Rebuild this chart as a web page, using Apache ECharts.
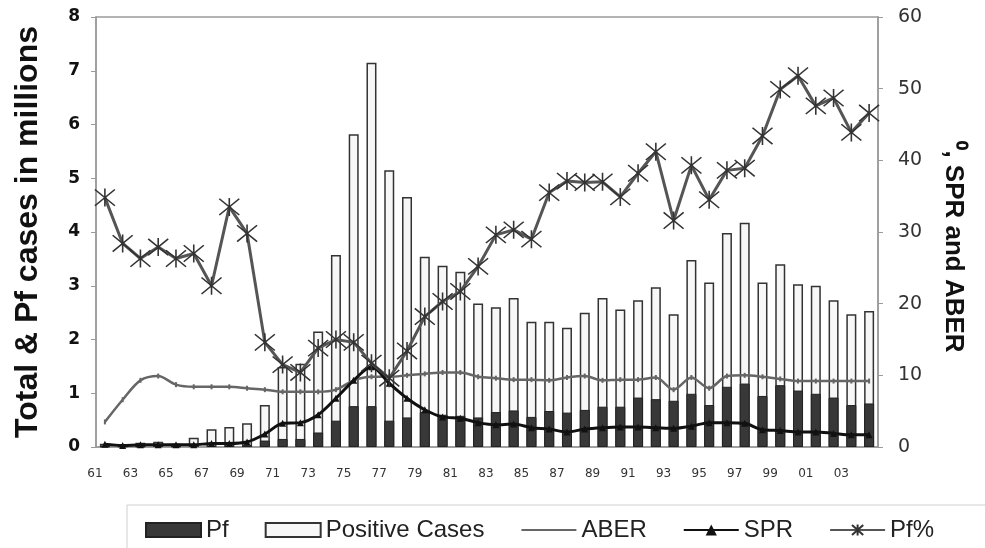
<!DOCTYPE html>
<html>
<head>
<meta charset="utf-8">
<script src="https://cdn.jsdelivr.net/npm/echarts@6/dist/echarts.min.js"></script>
<style>
  html, body { margin: 0; padding: 0; background: #fff; }
  #chart { width: 985px; height: 548px; }
</style>
</head>
<body>
<div id="chart"></div>
<script>
// years 1961 - 2004
var years = ['61','62','63','64','65','66','67','68','69','70',
  '71','72','73','74','75','76','77','78','79','80',
  '81','82','83','84','85','86','87','88','89','90',
  '91','92','93','94','95','96','97','98','99','00',
  '01','02','03','04'];

// cases in millions (left axis)
var positiveCases = [0.06,0.04,0.08,0.1,0.06,0.17,0.33,0.37,0.44,0.78,
  1.49,1.55,2.15,3.57,5.82,7.15,5.15,4.65,3.54,3.37,
  3.26,2.67,2.6,2.77,2.33,2.33,2.22,2.5,2.77,2.56,
  2.73,2.97,2.47,3.48,3.06,3.98,4.17,3.06,3.4,3.03,
  3.0,2.73,2.47,2.53];
var pf = [0.01,0.01,0.01,0.02,0.01,0.02,0.02,0.03,0.03,0.12,
  0.15,0.15,0.27,0.49,0.76,0.76,0.49,0.55,0.65,0.6,
  0.58,0.55,0.65,0.68,0.56,0.67,0.64,0.69,0.75,0.75,
  0.92,0.89,0.86,0.99,0.78,1.12,1.18,0.95,1.15,1.05,
  0.99,0.92,0.78,0.81];

// percentages (right axis)
var aber = [3.5,6.6,9.3,9.9,8.7,8.4,8.4,8.4,8.2,8.0,
  7.7,7.7,7.7,8.0,9.3,9.8,9.8,10.0,10.2,10.4,
  10.4,9.8,9.6,9.4,9.4,9.3,9.7,9.9,9.3,9.4,
  9.4,9.7,8.0,9.7,8.2,9.9,10.0,9.8,9.5,9.2,
  9.2,9.2,9.2,9.2];
var spr = [0.4,0.2,0.3,0.3,0.3,0.3,0.5,0.5,0.7,1.8,
  3.3,3.4,4.5,6.8,9.3,11.2,8.9,6.8,5.2,4.2,
  4.0,3.4,3.1,3.2,2.7,2.5,2.1,2.5,2.7,2.8,
  2.8,2.7,2.6,2.9,3.4,3.4,3.3,2.4,2.3,2.1,
  2.1,1.9,1.7,1.7];
var pfPercent = [34.8,28.4,26.3,27.9,26.3,27.0,22.5,33.5,29.8,14.6,
  11.5,10.4,13.8,15.0,14.6,11.7,9.6,13.4,18.2,20.3,
  21.7,25.2,29.6,30.3,29.0,35.5,37.1,36.9,37.0,34.9,
  38.2,41.2,31.6,39.3,34.5,38.6,38.9,43.4,49.9,51.8,
  47.6,48.7,43.9,46.6];

var sans = "'Liberation Sans', Arial, sans-serif";
var starPath = 'path://M0,0L20,20M20,0L0,20M10,-1L10,21';

var chart = echarts.init(document.getElementById('chart'));
chart.setOption({
  animation: false,
  grid: {
    left: 96, right: 107, top: 17, bottom: 101,
    show: true, borderColor: '#9a9a9a', borderWidth: 1.5
  },
  legend: {
    left: 127, top: 505, width: 900,
    data: [
      { name: 'Pf', icon: 'rect' },
      { name: 'Positive Cases', icon: 'rect' },
      { name: 'ABER', itemStyle: { opacity: 0 } },
      'SPR', 'Pf%'
    ],
    itemWidth: 55, itemHeight: 14, itemGap: 36,
    padding: [13, 60, 10, 18],
    borderColor: '#cfcfcf', borderWidth: 1,
    textStyle: { fontFamily: sans, fontSize: 24, color: '#222' }
  },
  xAxis: {
    type: 'category',
    data: years,
    boundaryGap: true,
    axisLine: { lineStyle: { color: '#9a9a9a', width: 1.5 } },
    axisTick: { length: 5, lineStyle: { color: '#9a9a9a' } },
    axisLabel: {
      interval: 1, margin: 21,
      fontFamily: 'DejaVu Sans', fontSize: 12, color: '#333',
      padding: [0, 20, 0, 0]
    }
  },
  yAxis: [{
    type: 'value',
    min: 0, max: 8, interval: 1,
    name: 'Total & Pf cases in millions',
    nameLocation: 'middle', nameGap: 52,
    nameTextStyle: { fontFamily: sans, fontWeight: 'bold', fontSize: 32, color: '#111' },
    splitLine: { show: false },
    axisLine: { show: true, lineStyle: { color: '#9a9a9a', width: 1.5 } },
    axisTick: { show: true, length: 5, lineStyle: { color: '#9a9a9a' } },
    axisLabel: { margin: 16, fontFamily: 'DejaVu Sans', fontWeight: 'bold', fontSize: 17, color: '#111' }
  }, {
    type: 'value',
    min: 0, max: 60, interval: 10,
    name: '\u2070, SPR and ABER',
    nameLocation: 'middle', nameGap: 62, nameRotate: -90,
    nameTextStyle: {
      fontFamily: sans, fontWeight: 'bold', fontSize: 26, color: '#111',
      padding: [0, 0, 0, 30]
    },
    splitLine: { show: false },
    axisLine: { show: true, lineStyle: { color: '#9a9a9a', width: 1.5 } },
    axisTick: { show: true, length: 5, lineStyle: { color: '#9a9a9a' } },
    axisLabel: { margin: 20, fontFamily: 'DejaVu Sans', fontSize: 19, color: '#333' }
  }],
  series: [{
    name: 'Positive Cases',
    type: 'bar',
    data: positiveCases,
    barWidth: 10,
    barGap: '-100%',
    itemStyle: { color: '#f7f7f7', borderColor: '#333', borderWidth: 1.5 }
  }, {
    name: 'Pf',
    type: 'bar',
    data: pf,
    barWidth: 10,
    barGap: '-100%',
    itemStyle: { color: '#383838', borderColor: '#222', borderWidth: 1 }
  }, {
    name: 'ABER',
    type: 'line',
    yAxisIndex: 1,
    data: aber,
    smooth: 0.3,
    showAllSymbol: true,
    symbol: 'rect', symbolSize: [2, 5],
    lineStyle: { color: '#666', width: 2.5 },
    itemStyle: { color: '#666' },
    z: 3
  }, {
    name: 'SPR',
    type: 'line',
    yAxisIndex: 1,
    data: spr,
    smooth: 0.3,
    showAllSymbol: true,
    symbol: 'triangle', symbolSize: 7,
    lineStyle: { color: '#111', width: 3 },
    itemStyle: { color: '#111' },
    z: 4
  }, {
    name: 'Pf%',
    type: 'line',
    yAxisIndex: 1,
    data: pfPercent,
    showAllSymbol: true,
    symbol: starPath, symbolSize: [20, 18],
    lineStyle: { color: '#555', width: 3 },
    itemStyle: { color: '#333', borderColor: '#333', borderWidth: 1.5 },
    z: 5
  }]
});
</script>
</body>
</html>
